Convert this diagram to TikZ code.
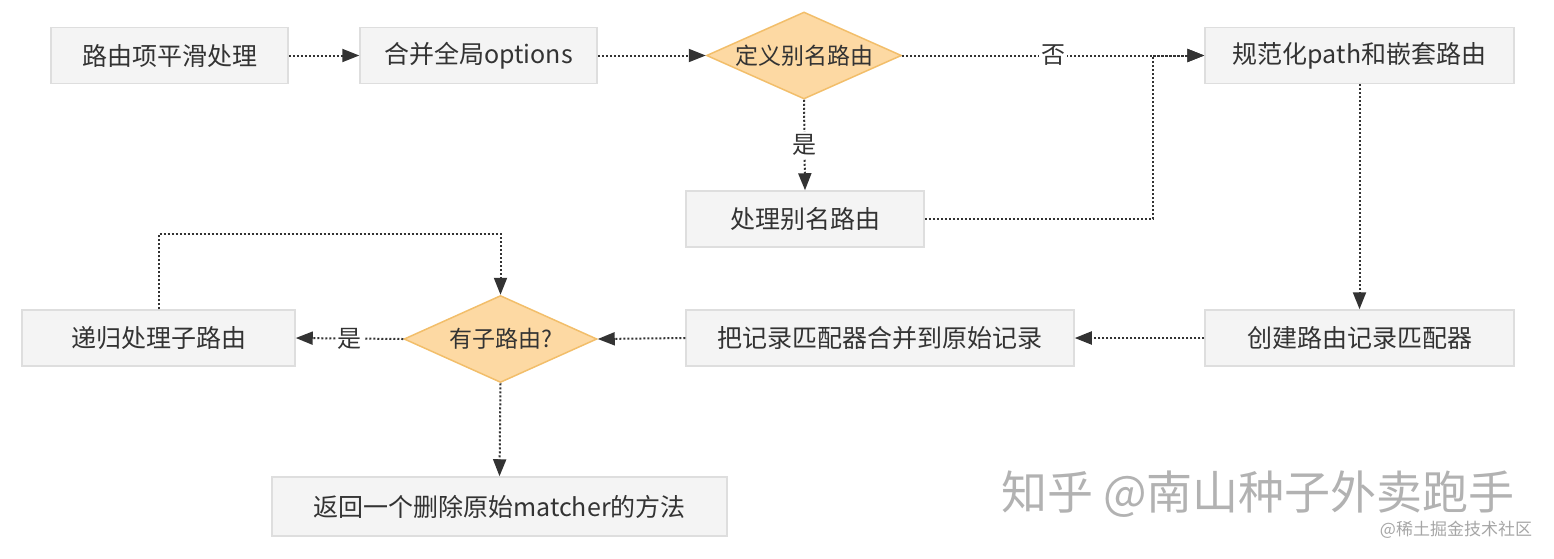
\documentclass[tikz,border=0pt]{standalone}
\usepackage{fontspec}
\setmainfont{Noto Sans CJK SC}
\usetikzlibrary{shapes.geometric,arrows.meta}
\definecolor{boxfill}{HTML}{F4F4F4}
\definecolor{boxline}{HTML}{DEDEDE}
\definecolor{decfill}{HTML}{FDD9A3}
\definecolor{decline}{HTML}{F2BE6A}
\definecolor{txt}{HTML}{333333}
\begin{document}
\begin{tikzpicture}[x=1pt,y=-1pt,
        box/.style = {draw=boxline,fill=boxfill,line width=1.5pt,minimum height=56pt,inner sep=0pt,text=txt,font=\fontsize{25}{30}\selectfont},
        decision/.style = {diamond,aspect=2.24,draw=decline,fill=decfill,line width=1.5pt,minimum width=195pt,minimum height=87pt,inner sep=0pt,text=txt,font=\fontsize{23}{28}\selectfont},
        flow/.style = {draw=txt,line width=2pt,dash pattern=on 2pt off 2pt,-{Triangle[length=17pt,width=13pt]}},
        lbl/.style = {fill=white,inner sep=2pt,text=txt,font=\fontsize{24}{28}\selectfont}]
    \useasboundingbox (0,0) rectangle (1554,558);
    % first row
    \node [box,minimum width=237pt] (smooth) at (169.5,55.5) {路由项平滑处理};
    \node [box,minimum width=237pt] (merge) at (478.5,55.5) {合并全局options};
    \node [decision] (isalias) at (804,55.5) {定义别名路由};
    \node [box,minimum width=238pt] (alias) at (805,219) {处理别名路由};
    \node [box,minimum width=309pt] (normalize) at (1359.5,55.5) {规范化path和嵌套路由};
    % second row
    \node [box,minimum width=309pt] (matcher) at (1359.5,338) {创建路由记录匹配器};
    \node [box,minimum width=388pt] (record) at (880,338) {把记录匹配器合并到原始记录};
    \node [decision,minimum width=193pt] (haschild) at (500.5,339) {有子路由?};
    \node [box,minimum width=273pt] (children) at (158.5,338) {递归处理子路由};
    \node [box,minimum width=455pt,minimum height=59pt] (remove) at (499.5,506.5) {返回一个删除原始matcher的方法};
    % connectors
    \draw [flow] (smooth.east) -- (merge.west);
    \draw [flow] (merge.east) -- (isalias.west);
    \draw [flow] (isalias.east) -- node [lbl] {否} (normalize.west);
    \draw [flow] (isalias.south) -- node [lbl] {是} (alias.north);
    \draw [flow] (alias.east) -- ++(228,0) |- (normalize.west);
    \draw [flow] (normalize.south) -- (matcher.north);
    \draw [flow] (matcher.west) -- (record.east);
    \draw [flow] (record.west) -- (haschild.east);
    \draw [flow] (haschild.west) -- node [lbl] {是} (children.east);
    \draw [flow] (children.north) -- ++(0,-75) -| (haschild.north);
    \draw [flow] (haschild.south) -- (remove.north);
    % watermarks
    \node [text=black!30,font=\fontsize{46}{50}\selectfont] (zhihu) at (1258,494) {知乎 @南山种子外卖跑手};
    \node [text=black!35,font=\fontsize{17}{20}\selectfont] (juejin) at (1456,530) {@稀土掘金技术社区};
\end{tikzpicture}
\end{document}
